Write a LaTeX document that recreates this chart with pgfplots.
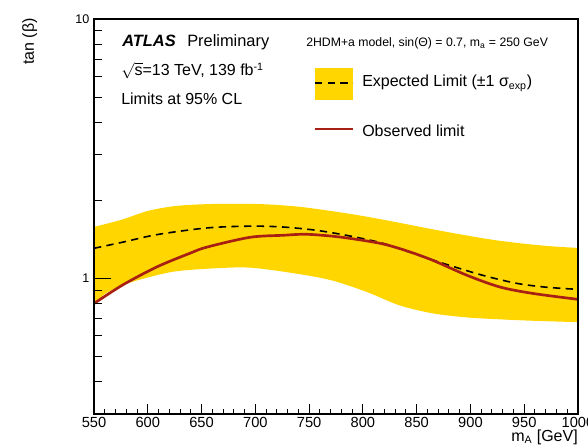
\documentclass[border=0pt]{standalone}
\usepackage{fontspec}
\setmainfont{Liberation Sans}
\usepackage{pgfplots}
\pgfplotsset{compat=1.18}
\usepgfplotslibrary{fillbetween}
\usetikzlibrary{calc}
\definecolor{band}{RGB}{255,214,0}
\definecolor{obs}{RGB}{168,32,20}

\begin{document}
\begin{tikzpicture}
\begin{axis}[name=ax, scale only axis, width=363pt, height=296.25pt,
  xmin=550, xmax=1000, ymode=log, ymin=0.3, ymax=10,
  xtick={550,600,...,1000}, minor x tick num=4,
  ytick=\empty,
  tick align=inside, tick pos=left,
  major tick length=7.5pt, minor tick length=4pt,
  every tick/.style={line width=0.75pt, black},
  axis line style={line width=0.9pt},
  /pgf/number format/assume math mode=true,
  /pgf/number format/1000 sep={},
  x tick label style={font=\fontsize{11}{12}\selectfont, inner sep=1pt, yshift=-1pt},
  axis on top]

\addplot[name path=up, draw=none, smooth] coordinates {
(550,1.58) (575,1.68) (600,1.82) (625,1.90) (650,1.93) (680,1.94) (710,1.93)
(740,1.89) (770,1.82) (800,1.74) (830,1.65) (860,1.56) (890,1.48) (920,1.41)
(950,1.36) (975,1.33) (1000,1.31)};
\addplot[name path=lo, draw=none, smooth] coordinates {
(550,0.79) (560,0.87) (575,0.935) (593,0.99) (623,1.06) (656,1.09) (695,1.10)
(740,1.04) (772,0.98) (804,0.885) (834,0.787) (865,0.733) (897,0.707)
(928,0.695) (960,0.686) (1000,0.678)};
\addplot[band] fill between[of=up and lo];

\addplot[black, line width=1.2pt, dash pattern=on 5.5pt off 4pt, smooth] coordinates {
(550,1.306) (577,1.38) (608.6,1.475) (655,1.565) (695,1.59) (725.7,1.578)
(757,1.532) (788,1.457) (818.7,1.365) (846.6,1.249) (874.5,1.143)
(911.7,1.027) (943,0.957) (970,0.925) (1000,0.907)};

\addplot[obs, line width=2pt, smooth] coordinates {
(550,0.80) (577,0.945) (608.6,1.108) (639,1.249) (655,1.32) (695,1.44)
(725.7,1.466) (748,1.479) (779,1.443) (816,1.365) (840,1.28) (865,1.174)
(897,1.027) (927.5,0.926) (958,0.875) (1000,0.83)};
\end{axis}

\begin{axis}[scale only axis, width=363pt, height=296.25pt,
  xmin=550, xmax=1000, ymode=log, ymin=0.3, ymax=10,
  xtick=\empty,
  ytick={1,10}, yticklabels={1,10},
  minor ytick={0.3,0.4,0.5,0.6,0.7,0.8,0.9,2,3,4,5,6,7,8,9},
  tick align=inside, tick pos=left,
  major tick length=12.75pt, minor tick length=6pt,
  every tick/.style={line width=0.75pt, black},
  axis line style={draw=none},
  y tick label style={font=\fontsize{9.4}{10}\selectfont}]
\end{axis}

\begin{scope}[shift={($(ax.south west)+(-70.5pt,310.5pt)$)}, x=0.75pt, y=-0.75pt]
  \coordinate (TL) at (0,0);
  \coordinate (BR) at (588,447);
  \node[anchor=base west, inner sep=0, font=\fontsize{12.3}{14}\bfseries\itshape] at (122,47)
    {ATLAS};
  \node[anchor=base west, inner sep=0, font=\fontsize{12.3}{14}\selectfont] at (187,47)
    {Preliminary};
  \node[anchor=base west, inner sep=0, font=\fontsize{12}{14}\selectfont] at (121,76)
    {$\sqrt{\mbox{s}}$=13 TeV, 139 fb\textsuperscript{-1}};
  \node[anchor=base west, inner sep=0, font=\fontsize{12}{14}\selectfont] at (121,105)
    {Limits at 95\% CL};
  \node[anchor=base west, inner sep=0, font=\fontsize{9.2}{11}\selectfont] at (306,47)
    {2HDM+a model, sin(Θ) = 0.7, m\textsubscript{a} = 250 GeV};
  \fill[band] (315,68) rectangle (353,100);
  \draw[black, line width=1.2pt, dash pattern=on 5.5pt off 4pt] (315,83) -- (353,83);
  \node[anchor=base west, inner sep=0, font=\fontsize{12}{14}\selectfont] at (362,87)
    {Expected Limit (±1 σ\textsubscript{exp})};
  \draw[obs, line width=2pt] (315,129) -- (353,129);
  \node[anchor=base west, inner sep=0, font=\fontsize{12}{14}\selectfont] at (362,137)
    {Observed limit};
  \node[anchor=base east, inner sep=0, font=\fontsize{12}{14}\selectfont] at (578,441)
    {m\textsubscript{A} [GeV]};
  \node[rotate=90, anchor=north east, inner sep=0, font=\fontsize{12}{14}\selectfont] at (22,18)
    {tan (β)};
\end{scope}
\pgfresetboundingbox
\path[use as bounding box] (TL) rectangle (BR);
\end{tikzpicture}
\end{document}
